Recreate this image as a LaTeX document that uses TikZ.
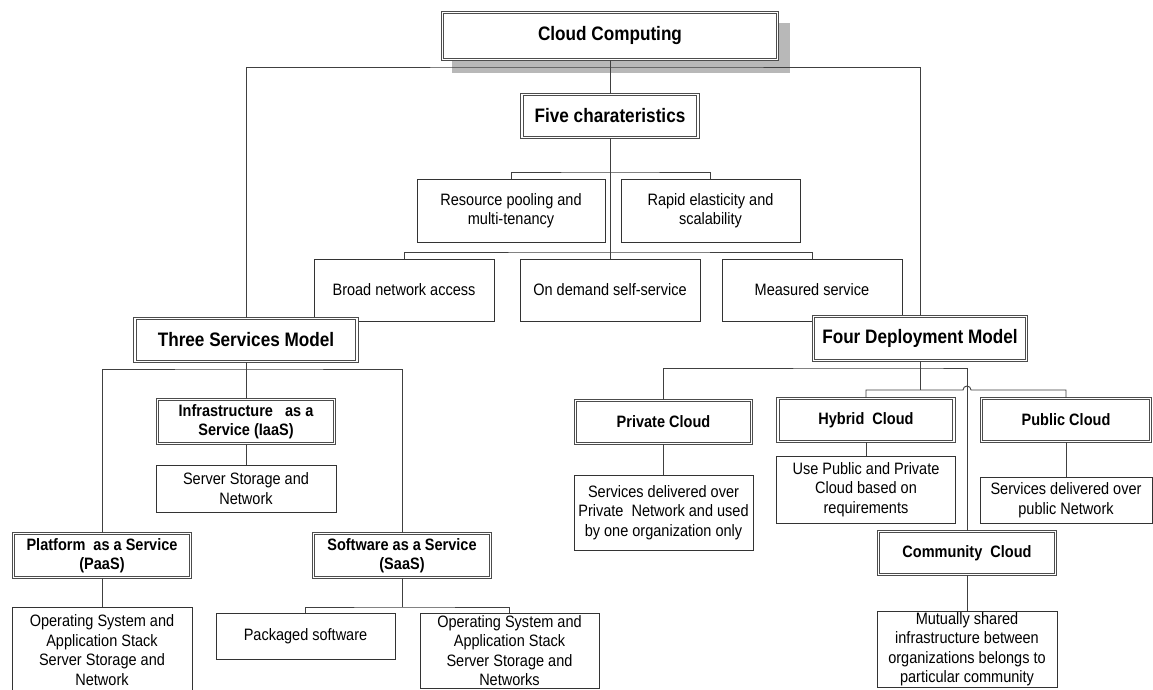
\documentclass[tikz,border=0pt]{standalone}
\usepackage{fontspec}
\setmainfont{Liberation Sans}[FakeStretch=0.88]
\tikzset{
  dbl/.style={draw=black!70, line width=1.1pt, double=white, double distance=1.4pt, fill=white, inner sep=0pt, align=center},
  bigt/.style={dbl, font=\fontsize{19.5}{22}\selectfont\bfseries},
  midt/.style={dbl, font=\fontsize{16.5}{19.5}\selectfont\bfseries},
  plain/.style={draw=black!80, line width=0.9pt, fill=white, inner sep=0pt, align=center, font=\fontsize{16.5}{19.5}\selectfont},
  conn/.style={draw=black!75, line width=0.9pt},
}
\begin{document}
\begin{tikzpicture}[x=1pt,y=-1pt]
\useasboundingbox (0,0) rectangle (1153,690);
\clip (0,0) rectangle (1153,690);
\fill[white] (0,0) rectangle (1153,690);
% shadow of the title box
\fill[black!28] (452,23) rectangle (790,73);
% nodes
\node[bigt, minimum width=335pt, minimum height=47pt] (cloud) at (610,36) {Cloud Computing};
\node[bigt, minimum width=176pt, minimum height=43pt] (five) at (610,116) {Five charateristics};
\node[plain, minimum width=188pt, minimum height=63pt] (res) at (511,210.5) {Resource pooling and\\multi-tenancy};
\node[plain, minimum width=179pt, minimum height=63pt] (rapid) at (710.5,210.5) {Rapid elasticity and\\scalability};
\node[plain, minimum width=180pt, minimum height=62pt] (broad) at (404,290) {Broad network access};
\node[plain, minimum width=180pt, minimum height=62pt] (ondem) at (610,290) {On demand self-service};
\node[plain, minimum width=180pt, minimum height=62pt] (measured) at (812,290) {Measured service};
\node[bigt, minimum width=222pt, minimum height=43pt] (three) at (246,340) {Three Services Model};
\node[bigt, minimum width=213pt, minimum height=44pt] (four) at (920,338.5) {Four Deployment Model};
\node[midt, minimum width=177pt, minimum height=44pt] (iaas) at (246,421.5) {Infrastructure~~~as a\\Service (IaaS)};
\node[plain, minimum width=180pt, minimum height=47pt] (ssn) at (246,488.5) {Server Storage and\\Network};
\node[midt, minimum width=177pt, minimum height=44pt] (paas) at (102,555.5) {Platform~ as a Service\\(PaaS)};
\node[midt, minimum width=177pt, minimum height=44pt] (saas) at (402,555.5) {Software as a Service\\(SaaS)};
\node[plain, minimum width=180pt, minimum height=86pt] (paasd) at (102,650) {Operating System and\\Application Stack\\Server Storage and\\Network};
\node[plain, minimum width=179pt, minimum height=46pt] (pack) at (305.5,636) {Packaged software};
\node[plain, minimum width=179pt, minimum height=75pt] (saasd) at (509.5,650.5) {Operating System and\\Application Stack\\Server Storage and\\Networks};
\node[midt, minimum width=176pt, minimum height=43pt] (private) at (663.5,422) {Private Cloud};
\node[plain, minimum width=179pt, minimum height=75pt] (privd) at (663.5,512.5) {Services delivered over\\Private~ Network and used\\by one organization only};
\node[midt, minimum width=176pt, minimum height=43pt] (hybrid) at (866,420) {Hybrid~ Cloud};
\node[plain, minimum width=179pt, minimum height=67pt] (hybd) at (866,489.5) {Use Public and Private\\Cloud based on\\requirements};
\node[midt, minimum width=169pt, minimum height=43pt] (public) at (1066,420) {Public Cloud};
\node[plain, minimum width=172pt, minimum height=46pt] (pubd) at (1066,500) {Services delivered over\\public Network};
\node[midt, minimum width=177pt, minimum height=43pt] (comm) at (967,553) {Community~ Cloud};
\node[plain, minimum width=180pt, minimum height=76pt] (commd) at (967,649) {Mutually shared\\infrastructure between\\organizations belongs to\\particular community};
% bus coordinates
\coordinate (busT) at (610,67);
\coordinate (b1) at (610,172);
\coordinate (b2) at (610,252);
\coordinate (b3) at (246,369);
\coordinate (b4) at (402,607);
\coordinate (b5) at (920,368);
\coordinate (b6) at (920,390);
% connectors
\draw[conn] (cloud.south) -- (five.north);
\draw[conn] (three.north) |- (busT) -| (four.north);
\draw[conn] (five.south) -- (ondem.north);
\draw[conn] (res.north) |- (b1) -| (rapid.north);
\draw[conn] (broad.north) |- (b2) -| (measured.north);
\draw[conn] (three.south) -- (iaas.north);
\draw[conn] (paas.north) |- (b3) -| (saas.north);
\draw[conn] (iaas.south) -- (ssn.north);
\draw[conn] (paas.south) -- (paasd.north);
\draw[conn] (saas.south) -- (b4);
\draw[conn] (pack.north) |- (b4) -| (saasd.north);
\draw[conn] (four.south) -- (b6);
\draw[conn] (private.north) |- (b5) -| (comm.north);
\draw[conn] (hybrid.north) |- (b6) -- (963,390) arc[start angle=180, end angle=0, radius=4pt] -- (public.north |- b6) -- (public.north);
\draw[conn] (private.south) -- (privd.north);
\draw[conn] (hybrid.south) -- (hybd.north);
\draw[conn] (public.south) -- (pubd.north);
\draw[conn] (comm.south) -- (commd.north);
\end{tikzpicture}
\end{document}
